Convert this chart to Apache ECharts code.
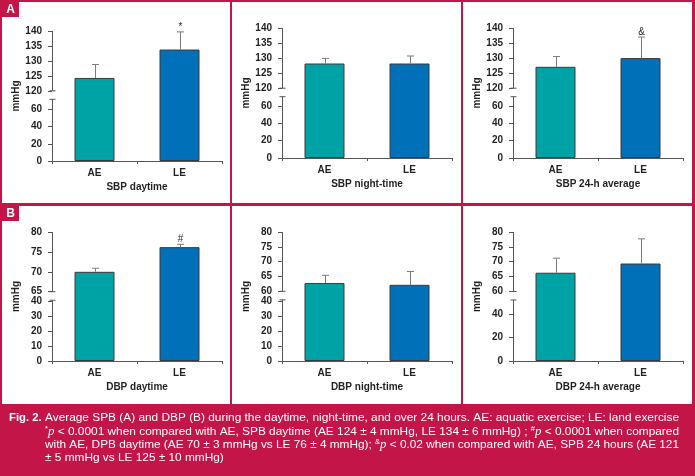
<!DOCTYPE html>
<html><head><meta charset="utf-8">
<script src="https://cdn.jsdelivr.net/npm/echarts@6/dist/echarts.min.js"></script>
<style>html,body{margin:0;padding:0;background:#fff}#c{width:695px;height:476px}</style>
</head><body><div id="c"></div>
<script>
// ---------------- DATA ----------------
const categories = ['AE', 'LE'];
const sbpDaytime = [124.3, 133.8];
const sbpDaytimeErr = [4.5, 5.9];
const sbpDaytimeMarks = ['', '*'];
const sbpNight = [128.2, 128.2];
const sbpNightErr = [1.7, 2.5];
const sbpNightMarks = ['', ''];
const sbp24h = [127.1, 130.0];
const sbp24hErr = [3.4, 7.0];
const sbp24hMarks = ['', '&'];
const dbpDaytime = [70.0, 76.2];
const dbpDaytimeErr = [0.9, 0.7];
const dbpDaytimeMarks = ['', '#'];
const dbpNight = [62.8, 62.2];
const dbpNightErr = [2.6, 4.5];
const dbpNightMarks = ['', ''];
const dbp24h = [66.3, 69.4];
const dbp24hErr = [4.9, 8.3];
const dbp24hMarks = ['', ''];

const sbpLowerTicks = [0, 20, 40, 60];
const sbpUpperTicks = [120, 125, 130, 135, 140];
const dbpDayLowerTicks = [0, 10, 20, 30, 40];
const dbpDayUpperTicks = [65, 70, 75, 80];
const dbpNightLowerTicks = [0, 10, 20, 30, 40];
const dbpNightUpperTicks = [60, 65, 70, 75, 80];
const dbp24LowerTicks = [0, 20, 40];
const dbp24UpperTicks = [60, 65, 70, 75, 80];

const panelTitles = ['SBP daytime', 'SBP night-time', 'SBP 24-h average',
                     'DBP daytime', 'DBP night-time', 'DBP 24-h average'];
const yAxisName = 'mmHg';
const panelLetters = ['A', 'B'];

const captionLines = [
  [{t: 'Average SPB (A) and DBP (B) during the daytime, night-time, and over 24 hours. AE: aquatic exercise; LE: land exercise'}],
  [{t: '*', s: 'sup'}, {t: 'p', s: 'it'}, {t: ' < 0.0001 when compared with AE, SPB daytime (AE 124 \u00b1 4 mmHg, LE 134 \u00b1 6 mmHg) ; '},
   {t: '#', s: 'sup'}, {t: 'p', s: 'it'}, {t: ' < 0.0001 when compared'}],
  [{t: 'with AE, DPB daytime (AE 70 \u00b1 3 mmHg vs LE 76 \u00b1 4 mmHg); '}, {t: '&', s: 'sup'}, {t: 'p', s: 'it'},
   {t: ' < 0.02 when compared with AE, SPB 24 hours (AE 121'}],
  [{t: '\u00b1 5 mmHg vs LE 125 \u00b1 10 mmHg)'}]
];
const captionLead = 'Fig. 2.';

// ---------------- STYLE / LAYOUT ----------------
const CRIMSON = '#C41549';
const BAR_COLORS = ['#00A3A5', '#0070B8'];
const TEXT = '#231F20';
const AXIS = '#555555';
const FONT = '"Liberation Sans", Arial, Helvetica, sans-serif';

const panels = [
  {values: sbpDaytime, errors: sbpDaytimeErr, marks: sbpDaytimeMarks, lower: sbpLowerTicks, upper: sbpUpperTicks, title: panelTitles[0]},
  {values: sbpNight, errors: sbpNightErr, marks: sbpNightMarks, lower: sbpLowerTicks, upper: sbpUpperTicks, title: panelTitles[1]},
  {values: sbp24h, errors: sbp24hErr, marks: sbp24hMarks, lower: sbpLowerTicks, upper: sbpUpperTicks, title: panelTitles[2]},
  {values: dbpDaytime, errors: dbpDaytimeErr, marks: dbpDaytimeMarks, lower: dbpDayLowerTicks, upper: dbpDayUpperTicks, title: panelTitles[3]},
  {values: dbpNight, errors: dbpNightErr, marks: dbpNightMarks, lower: dbpNightLowerTicks, upper: dbpNightUpperTicks, title: panelTitles[4]},
  {values: dbp24h, errors: dbp24hErr, marks: dbp24hMarks, lower: dbp24LowerTicks, upper: dbp24UpperTicks, title: panelTitles[5]}
];
// fL: share of axis height for lower segment, fG: share for break gap
const layout = [
  {left: 52, top: 31, width: 170, height: 130, fL: 0.396, fG: 0.144},
  {left: 282, top: 28, width: 170, height: 130, fL: 0.400, fG: 0.137},
  {left: 513, top: 28, width: 170, height: 130, fL: 0.400, fG: 0.137},
  {left: 52, top: 232, width: 170, height: 129, fL: 0.462, fG: 0.075},
  {left: 282, top: 232, width: 170, height: 129, fL: 0.462, fG: 0.078},
  {left: 513, top: 232, width: 170, height: 129, fL: 0.364, fG: 0.175}
];

// broken-axis mapping: real value -> position on a 0..1 axis
function toV(y, p, L) {
  const lMax = p.lower[p.lower.length - 1], uMin = p.upper[0], uMax = p.upper[p.upper.length - 1];
  if (y <= lMax) return y / lMax * L.fL;
  if (y >= uMin) return L.fL + L.fG + (y - uMin) / (uMax - uMin) * (1 - L.fL - L.fG);
  return L.fL + (y - lMax) / (uMin - lMax) * L.fG;
}

const grids = [], xAxes = [], yAxes = [], series = [];
panels.forEach(function (p, i) {
  const L = layout[i];
  grids.push({left: L.left, top: L.top, width: L.width, height: L.height});
  const tickReal = p.lower.concat(p.upper);
  const tickV = tickReal.map(function (t) { return toV(t, p, L); });
  xAxes.push({
    type: 'category', gridIndex: i, data: categories,
    axisLine: {lineStyle: {color: AXIS, width: 1}},
    axisTick: {show: true, alignWithLabel: false, length: 3, lineStyle: {color: AXIS}},
    axisLabel: {color: TEXT, fontFamily: FONT, fontWeight: 'bold', fontSize: 10, margin: 7},
    name: p.title, nameLocation: 'middle', nameGap: 21,
    nameTextStyle: {color: TEXT, fontFamily: FONT, fontWeight: 'bold', fontSize: 10}
  });
  yAxes.push({
    type: 'value', gridIndex: i, min: 0, max: 1,
    splitLine: {show: false},
    axisLine: {show: false},
    axisTick: {show: true, length: 4, customValues: tickV, lineStyle: {color: AXIS}},
    axisLabel: {
      color: TEXT, fontFamily: FONT, fontWeight: 'bold', fontSize: 10, margin: 10,
      customValues: tickV,
      formatter: function (val) {
        for (let k = 0; k < tickV.length; k++) if (Math.abs(tickV[k] - val) < 1e-6) return String(tickReal[k]);
        return '';
      }
    },
    name: yAxisName, nameLocation: 'middle', nameRotate: 90, nameGap: 31,
    nameTextStyle: {color: TEXT, fontFamily: FONT, fontWeight: 'bold', fontSize: 10}
  });
  // bars
  series.push({
    type: 'bar', xAxisIndex: i, yAxisIndex: i, barWidth: 40,
    data: p.values.map(function (v, k) {
      return {value: toV(v, p, L), itemStyle: {color: BAR_COLORS[k], borderColor: '#3a3a3a', borderWidth: 1}};
    }),
    z: 2
  });
  // error bars + significance marks
  series.push({
    type: 'custom', xAxisIndex: i, yAxisIndex: i, z: 3,
    data: p.values.map(function (v, k) { return [k, toV(v + p.errors[k], p, L), toV(v, p, L)]; }),
    renderItem: function (params, api) {
      const top = api.coord([api.value(0), api.value(1)]);
      const base = api.coord([api.value(0), api.value(2)]);
      const x = Math.round(top[0]) + 0.5;
      const children = [
        {type: 'line', shape: {x1: x, y1: base[1], x2: x, y2: top[1]}, style: {stroke: '#7a7a7a', lineWidth: 1}},
        {type: 'line', shape: {x1: x - 3.5, y1: top[1], x2: x + 3.5, y2: top[1]}, style: {stroke: '#7a7a7a', lineWidth: 1}}
      ];
      const mark = p.marks[params.dataIndex];
      if (mark) {
        children.push({type: 'text', x: x, y: top[1] - 5,
          style: {text: mark, fill: TEXT, fontFamily: FONT, fontSize: 10, align: 'center', verticalAlign: 'middle'}});
      }
      return {type: 'group', children: children};
    }
  });
  // broken y axis line
  series.push({
    type: 'custom', xAxisIndex: i, yAxisIndex: i, z: 3, silent: true,
    data: [[0, 0]],
    renderItem: function (params, api) {
      const x0 = Math.round(params.coordSys.x) + 0.5;
      const yTop = api.coord([0, 1])[1];
      const yUpMin = api.coord([0, toV(p.upper[0], p, L)])[1];
      const yLowMax = api.coord([0, toV(p.lower[p.lower.length - 1], p, L)])[1];
      const y0 = api.coord([0, 0])[1];
      const yLowTop = Math.min(yUpMin + 8.5, yLowMax);
      const st = {stroke: AXIS, lineWidth: 1};
      return {type: 'group', children: [
        {type: 'line', shape: {x1: x0, y1: yTop, x2: x0, y2: yUpMin}, style: st},
        {type: 'line', shape: {x1: x0, y1: yLowTop, x2: x0, y2: y0}, style: st},
        {type: 'line', shape: {x1: x0 - 3, y1: yUpMin, x2: x0 + 3, y2: yUpMin}, style: st},
        {type: 'line', shape: {x1: x0 - 3, y1: yLowTop, x2: x0 + 3, y2: yLowTop}, style: st}
      ]};
    }
  });
});

// ---------------- FRAME + CAPTION GRAPHICS ----------------
const graphics = [];
const cols = [[2, 230], [232, 461], [463, 692]];
const rows = [[2, 203], [206, 404]];
rows.forEach(function (r) {
  cols.forEach(function (c) {
    graphics.push({type: 'rect', z: -1, shape: {x: c[0], y: r[0], width: c[1] - c[0], height: r[1] - r[0]}, style: {fill: '#fff'}});
  });
});
panelLetters.forEach(function (letter, k) {
  const y = rows[k][0];
  graphics.push({type: 'rect', z: 5, shape: {x: 2, y: y, width: 17, height: 15}, style: {fill: CRIMSON}});
  graphics.push({type: 'text', z: 6, x: 10.5, y: y + 8,
    style: {text: letter, fill: '#fff', fontFamily: FONT, fontWeight: 'bold', fontSize: 12, align: 'center', verticalAlign: 'middle'}});
});

const mctx = document.createElement('canvas').getContext('2d');
function segFont(s) {
  if (s === 'sup') return '7px ' + FONT;
  if (s === 'it') return 'italic 12px "Liberation Serif", "Times New Roman", serif';
  return '11px ' + FONT;
}
function measure(segs) {
  return segs.reduce(function (w, g) { mctx.font = segFont(g.s); return w + mctx.measureText(g.t).width; }, 0);
}
const rich = {
  n: {fontSize: 11, fontFamily: FONT, fill: '#fff', lineHeight: 13, verticalAlign: 'middle'},
  sup: {fontSize: 7, fontFamily: FONT, fill: '#fff', lineHeight: 8, verticalAlign: 'top'},
  it: {fontSize: 12, fontFamily: '"Liberation Serif", "Times New Roman", serif', fontStyle: 'italic', fill: '#fff', lineHeight: 13, verticalAlign: 'middle'}
};
const capX = 45, capRight = 679;
const capY = [418, 431.6, 445, 458.4];
const scales = captionLines.map(function (segs, k) {
  return (capRight - capX) / measure(segs);
});
scales[3] = (scales[1] + scales[2]) / 2;
captionLines.forEach(function (segs, k) {
  const text = segs.map(function (g) { return '{' + (g.s || 'n') + '|' + g.t + '}'; }).join('');
  graphics.push({type: 'text', z: 6, x: capX, y: capY[k], scaleX: scales[k],
    style: {text: text, rich: rich, fill: '#fff', fontSize: 11, fontFamily: FONT, align: 'left', verticalAlign: 'middle'}});
});
mctx.font = 'bold 11px ' + FONT;
const leadScale = 32.7 / mctx.measureText(captionLead).width;
graphics.push({type: 'text', z: 6, x: 9, y: capY[0], scaleX: leadScale,
  style: {text: captionLead, fill: '#fff', fontSize: 11, fontWeight: 'bold', fontFamily: FONT, align: 'left', verticalAlign: 'middle'}});

const chart = echarts.init(document.getElementById('c'), null, {renderer: 'canvas'});
chart.setOption({
  backgroundColor: CRIMSON,
  animation: false,
  grid: grids, xAxis: xAxes, yAxis: yAxes, series: series,
  graphic: {elements: graphics}
});
</script></body></html>
